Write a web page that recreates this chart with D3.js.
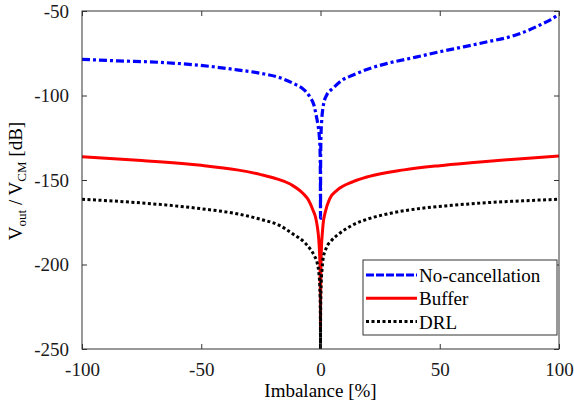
<!DOCTYPE html>
<html>
<head>
<meta charset="utf-8">
<script src="https://cdn.jsdelivr.net/npm/d3@7"></script>
<style>
  body { margin: 0; background: #fff; }
  svg, svg text { font-family: "Liberation Serif", "Times New Roman", Times, serif; }
</style>
</head>
<body>
<div id="chart"></div>
<script>
// Imbalance [%] and Vout/VCM [dB]
const noCancelX = [-100, -85, -67, -45, -35, -25, -17, -11.5, -7, -4.5, -2.8, -1.7, -1, -0.5, -0.2, -0.05, 0,
    0.05, 0.2, 0.5, 1.1, 2.5, 5.3, 9, 13.7, 20, 28, 40, 50, 60, 70, 78, 84, 92, 96, 100];
const noCancelY = [-78.6, -79.5, -80.4, -83, -84.8, -86.9, -89.5, -92.8, -96.5, -100.7, -105.5, -112.5, -118, -124, -132, -150, -172.5,
    -140, -124, -115, -106.6, -100, -95.7, -91, -87.9, -84.3, -81, -77.3, -74.1, -71.2, -68.2, -65.8, -63.2, -58.3, -55.5, -52];

const bufferX = [-100, -75, -50, -35, -25, -18, -12, -7.3, -5, -3.1, -2, -1.4, -0.8, -0.4, -0.15, -0.03, 0,
    0.03, 0.15, 0.4, 0.8, 1.1, 2, 3.9, 7, 13.7, 20, 35, 50, 63, 80, 100];
const bufferY = [-136.2, -138.5, -141.3, -144, -146.8, -149.5, -153, -158, -162, -168, -172.5, -177, -184, -193, -205, -222, -238,
    -222, -204, -190, -181, -176, -169, -161, -156, -151, -148, -144, -141.5, -139.8, -137.8, -135.8];

const drlX = [-100, -73, -50, -35, -25, -17, -11.5, -7, -4.5, -2.5, -1.4, -0.7, -0.3, -0.1, -0.02, 0,
    0.02, 0.1, 0.3, 0.7, 1.1, 2.5, 4.5, 8.1, 13, 20.7, 30, 42, 55, 70, 85, 100];
const drlY = [-161.4, -163.8, -167, -170, -173.3, -177, -182, -186.5, -190.5, -195, -199, -205, -213, -223, -237, -250,
    -237, -222, -211, -202, -196.5, -190, -186, -181.5, -177, -172.7, -169.5, -166.8, -165, -163.4, -162.3, -161.4];

const xTicks = [-100, -50, 0, 50, 100];
const yTicks = [-250, -200, -150, -100, -50];
const legendNames = ["No-cancellation", "Buffer", "DRL"];

const width = 574, height = 407;
const margin = { top: 11, right: 15, bottom: 58, left: 82 };
const innerWidth = width - margin.left - margin.right;
const innerHeight = height - margin.top - margin.bottom;
const serif = '"Liberation Serif", "Times New Roman", Times, serif';

const svg = d3.select("#chart").append("svg")
    .attr("width", width)
    .attr("height", height)
    .attr("font-family", serif);

const g = svg.append("g")
    .attr("transform", "translate(" + margin.left + "," + margin.top + ")");

const x = d3.scaleLinear().domain([-100, 100]).range([0, innerWidth]);
const y = d3.scaleLinear().domain([-250, -50]).range([innerHeight, 0]);

// clip lines to the axes box
g.append("clipPath").attr("id", "clip")
    .append("rect").attr("width", innerWidth).attr("height", innerHeight);

const series = [
    { xs: noCancelX, ys: noCancelY, color: "#0000ff", dash: "8,3,3,3", width: 3.2 },
    { xs: bufferX, ys: bufferY, color: "#ff0000", dash: null, width: 3 },
    { xs: drlX, ys: drlY, color: "#000000", dash: "3,2.5", width: 3 }
];

const line = d3.line()
    .x(d => x(d[0]))
    .y(d => y(d[1]))
    .curve(d3.curveMonotoneX);

const lines = g.append("g").attr("clip-path", "url(#clip)");
series.forEach(function (s) {
    const pts = s.xs.map((v, i) => [v, s.ys[i]]);
    lines.append("path")
        .datum(pts)
        .attr("d", line)
        .attr("fill", "none")
        .attr("stroke", s.color)
        .attr("stroke-width", s.width)
        .attr("stroke-dasharray", s.dash);
});

// axes with inward ticks, mirrored on top and right
const axisColor = "#333";
const plainFormat = d => String(d); // keep ASCII hyphen like the original
function styleAxis(sel) {
    sel.attr("font-family", serif).attr("font-size", 19);
    sel.select(".domain").remove();
    sel.selectAll(".tick line").attr("stroke", axisColor);
    sel.selectAll(".tick text").attr("fill", "#1a1a1a").attr("font-family", serif);
}

g.append("g")
    .attr("transform", "translate(0," + innerHeight + ")")
    .call(d3.axisBottom(x).tickValues(xTicks).tickFormat(plainFormat).tickSizeInner(-5).tickPadding(14))
    .call(styleAxis);

g.append("g")
    .call(d3.axisLeft(y).tickValues(yTicks).tickFormat(plainFormat).tickSizeInner(-5).tickPadding(13))
    .call(styleAxis);

g.append("g")
    .call(d3.axisTop(x).tickValues(xTicks).tickSizeInner(-5).tickFormat(""))
    .call(styleAxis);

g.append("g")
    .attr("transform", "translate(" + innerWidth + ",0)")
    .call(d3.axisRight(y).tickValues(yTicks).tickSizeInner(-5).tickFormat(""))
    .call(styleAxis);

g.append("rect")
    .attr("width", innerWidth)
    .attr("height", innerHeight)
    .attr("fill", "none")
    .attr("stroke", axisColor)
    .attr("stroke-width", 1);

// x label
svg.append("text")
    .attr("x", margin.left + innerWidth / 2)
    .attr("y", 397)
    .attr("text-anchor", "middle")
    .attr("font-family", serif)
    .attr("font-size", 19)
    .text("Imbalance [%]");

// y label with subscripts
const yLabel = svg.append("text")
    .attr("transform", "translate(22,181) rotate(-90)")
    .attr("text-anchor", "middle")
    .attr("font-family", serif)
    .attr("font-size", 19);
yLabel.append("tspan").text("V");
yLabel.append("tspan").attr("dy", 4).attr("font-size", 13).text("out");
yLabel.append("tspan").attr("dy", -4).text(" / V");
yLabel.append("tspan").attr("dy", 4).attr("font-size", 13).text("CM");
yLabel.append("tspan").attr("dy", -4).text(" [dB]");

// legend
const legend = svg.append("g").attr("transform", "translate(363,260)");
legend.append("rect")
    .attr("width", 194)
    .attr("height", 75)
    .attr("fill", "#fff")
    .attr("stroke", axisColor)
    .attr("stroke-width", 1);

legendNames.forEach(function (name, i) {
    const s = series[i];
    const cy = 15 + i * 23.3;
    legend.append("line")
        .attr("x1", 3).attr("x2", 54)
        .attr("y1", cy).attr("y2", cy)
        .attr("stroke", s.color)
        .attr("stroke-width", s.width)
        .attr("stroke-dasharray", i === 0 ? "8,2" : s.dash);
    legend.append("text")
        .attr("x", 56)
        .attr("y", cy + 7)
        .attr("font-family", serif)
        .attr("font-size", 19)
        .text(name);
});
</script>
</body>
</html>
